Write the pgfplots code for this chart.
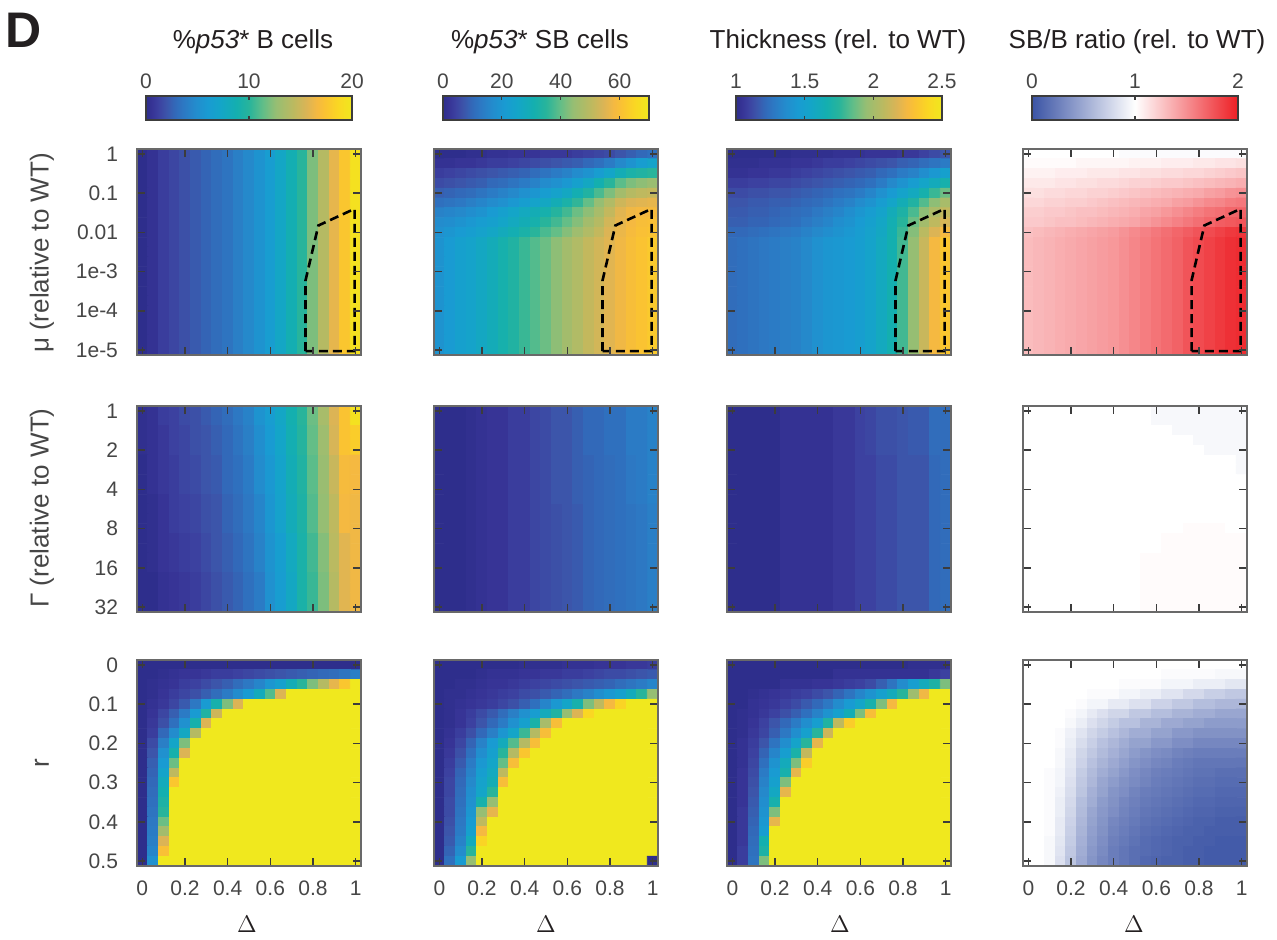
\documentclass[border=0pt]{standalone}
\usepackage{fontspec}
\setmainfont{Liberation Sans}
\usepackage{pgfplots}
\pgfplotsset{compat=1.18}

\definecolor{axgray}{RGB}{105,105,105}
\definecolor{tkgray}{RGB}{60,60,60}
\definecolor{lbgray}{RGB}{70,70,70}
\definecolor{ttl}{RGB}{35,31,32}

\pgfplotsset{
  colormap={refpar}{rgb255(0cm)=(46,46,140); rgb255(3cm)=(55,52,150); rgb255(6cm)=(60,65,160);
    rgb255(10cm)=(60,85,170); rgb255(14cm)=(50,105,185); rgb255(18cm)=(45,120,195);
    rgb255(24cm)=(35,140,205); rgb255(30cm)=(25,155,210); rgb255(36cm)=(20,165,200);
    rgb255(44cm)=(20,175,175); rgb255(50cm)=(40,180,155); rgb255(57cm)=(100,190,135);
    rgb255(63cm)=(150,190,115); rgb255(72cm)=(190,185,95); rgb255(78cm)=(220,180,85);
    rgb255(83cm)=(245,185,65); rgb255(87cm)=(250,195,50); rgb255(93cm)=(250,215,35);
    rgb255(100cm)=(240,232,30)},
  colormap={bwr}{rgb255(0cm)=(59,84,165); rgb255(50cm)=(255,255,255); rgb255(100cm)=(237,30,36)},
}

\pgfplotsset{
  hm/.style={
    scale only axis, width=112pt, height=103pt,
    anchor=north west,
    xmin=-0.5, xmax=20.5, ymin=-0.5, ymax=20.5, y dir=reverse,
    axis on top,
    xtick={0,4,8,12,16,20}, ytick={0,4,8,12,16,20},
    xticklabels={}, yticklabels={},
    tick align=inside, major tick length=4pt,
    axis line style={draw=axgray, line width=0.7pt},
    every tick/.style={draw=tkgray, line width=0.8pt},
    tick label style={font=\fontsize{10.5}{12}\selectfont, text=lbgray},
    yticklabel style={xshift=-6pt},
    xticklabel style={yshift=-4pt},
    point meta min=0, point meta max=100,
    colormap name=refpar,
  },
  cb/.style={
    colorbar horizontal,
    colorbar style={
      at={(parent axis.north)}, anchor=south, yshift=23pt,
      scale only axis, width=103pt, height=12pt,
      xticklabel pos=upper, tick align=inside, major tick length=2pt,
      axis line style={draw=tkgray, line width=0.7pt},
      every tick/.style={draw=tkgray, line width=0.6pt},
      tick label style={font=\fontsize{10.5}{12}\selectfont, text=lbgray},
      #1,
    },
  },
  dashbox/.style={black, line width=1.3pt, dash pattern=on 4.5pt off 2.5pt},
}

% grid builder: rows listed top to bottom, 21 values each
\newcommand\mkgrid[2]{%
  \gdef#1{}%
  \foreach \rw [count=\ri from 0] in {#2} {%
    \edef\rowlist{\rw}%
    \foreach \v [count=\ci from 0] in \rowlist {%
      \xdef#1{#1 (\ci,\ri) [\v]}%
    }%
  }%
}
\newcommand\heat[1]{\edef\hmtmp{\noexpand\addplot[matrix plot*,mesh/cols=21,point meta=explicit,forget plot] coordinates {#1};}\hmtmp}

\def\hA{100,100,100,100,100}
\def\hC{\hA,\hA,\hA}
\def\wA{50,50,50,50,50}

% row 1: mu
\def\rAA{0,2,5,7,9,11,13,15,17,20,23,27,31,37,43,50,60,70,80,88,97}
\mkgrid\gAA{%
{\rAA},{\rAA},{\rAA},{\rAA},{\rAA},{\rAA},{\rAA},%
{\rAA},{\rAA},{\rAA},{\rAA},{\rAA},{\rAA},{\rAA},%
{\rAA},{\rAA},{\rAA},{\rAA},{\rAA},{\rAA},{\rAA}}

\def\bAB{27,30,33,35,38,41,45,48,52,55,58,62,66,69,73,76,79,82,85,87,89}
\mkgrid\gAB{%
{0,0,0,1,1,2,2,3,3,3,4,4,4,5,6,7,8,10,12,14,16},%
{2,2,3,3,4,5,5,6,7,8,9,10,11,12,14,16,19,23,27,31,35},%
{5,6,7,8,9,10,11,12,13,15,17,19,21,24,27,31,36,42,46,48,50},%
{8,9,10,11,12,14,15,17,19,21,24,26,29,33,38,44,50,56,60,62,64},%
{12,13,14,15,17,19,21,23,26,28,31,34,38,43,48,54,60,66,70,72,73},%
{16,17,18,20,22,24,26,29,32,35,38,42,46,51,57,63,69,75,78,79,80},%
{21,22,23,25,27,30,33,36,39,42,45,49,53,58,62,67,73,79,82,83,84},%
{24,25,27,29,31,33,36,39,42,45,50,53,57,61,66,70,76,80,83,85,86},%
{26,28,30,32,34,37,40,43,46,50,54,57,61,65,69,73,78,81,84,86,87},%
{\bAB},{\bAB},{\bAB},{\bAB},{\bAB},{\bAB},%
{\bAB},{\bAB},{\bAB},{\bAB},{\bAB},{\bAB}}

\def\bAC{15,16,17,18,19,20,21,23,26,28,29,30,32,35,39,44,53,63,74,83,88}
\mkgrid\gAC{%
{0,0,0,0,0,0,1,1,1,1,2,2,2,3,3,3,4,4,6,8,10},%
{1,1,1,2,2,2,3,3,4,5,5,6,7,8,9,10,12,13,15,17,19},%
{2,2,3,3,4,4,5,6,7,8,9,10,11,12,14,16,19,21,25,29,33},%
{5,5,6,6,7,7,8,9,10,11,12,13,14,16,19,23,27,31,36,40,45},%
{8,8,9,9,10,10,11,12,13,14,16,17,19,22,26,30,35,39,45,52,58},%
{10,10,11,11,12,12,13,14,15,17,19,21,24,27,31,36,42,48,55,62,67},%
{11,11,12,12,13,14,15,16,18,20,22,25,28,31,35,41,47,54,62,68,73},%
{12,12,13,13,14,15,16,18,20,22,25,27,30,33,37,43,50,58,66,72,77},%
{14,14,15,16,17,18,19,21,23,25,27,29,31,34,38,44,52,61,71,78,83},%
{\bAC},{\bAC},{\bAC},{\bAC},{\bAC},{\bAC},%
{\bAC},{\bAC},{\bAC},{\bAC},{\bAC},{\bAC}}

\def\bAD{65,66,67,68,69,70,71,72,73,75,77,79,81,83,85,88,90,92,94,96,97}
\mkgrid\gAD{%
{\wA,50,50,50,50,49,49,49,49,49,49,49,49,49,49,49,49},%
{51,51,51,51,51,52,52,52,52,52,53,53,53,54,54,54,55,55,56,56,57},%
{53,53,53,54,54,54,55,55,55,56,56,57,57,58,58,59,59,60,61,62,63},%
{55,55,55,56,56,57,57,58,58,59,60,60,61,62,62,63,64,65,66,67,68},%
{57,57,58,58,59,59,60,60,61,62,63,64,65,66,67,68,69,71,72,74,75},%
{59,59,60,60,61,61,62,63,64,65,66,67,68,69,71,72,74,76,77,79,80},%
{61,61,62,62,63,64,64,65,66,67,68,70,71,73,75,77,79,81,82,84,85},%
{62,62,63,64,64,65,66,67,68,69,70,72,74,76,78,80,82,84,86,87,88},%
{64,65,66,67,68,69,70,71,72,74,76,78,80,82,84,86,88,90,92,94,95},%
{\bAD},{\bAD},{\bAD},{\bAD},{\bAD},{\bAD},%
{\bAD},{\bAD},{\bAD},{\bAD},{\bAD},{\bAD}}

% row 2: Gamma
\def\pA{1,2,5,6,8,9,11,13,15,18,21,27,31,37,44,50,58,67,78,87,97}
\def\pB{1,2,4,6,7,9,10,12,14,17,20,25,30,36,43,49,57,65,77,87,90}
\def\pC{0,2,4,5,7,8,10,11,14,16,19,24,29,35,42,48,56,64,74,84,83}
\def\pD{0,1,3,5,6,7,9,10,13,15,18,22,28,34,41,47,55,63,72,83,82}
\def\pE{0,1,3,4,5,6,8,10,12,14,17,21,27,32,39,46,53,61,71,79,82}
\def\pF{0,0,2,3,4,5,7,9,11,13,16,19,26,31,38,46,52,60,70,79,82}
\mkgrid\gBA{%
{\pA},{\pA},{\pB},{\pB},{\pB},{\pC},{\pC},{\pC},{\pC},%
{\pD},{\pD},{\pD},{\pD},{\pE},{\pE},{\pE},{\pE},{\pF},{\pF},{\pF},{\pF}}

\def\qA{0,0,0,1,2,3,3,5,5,7,8,10,10,12,14,14,16,16,19,19,21}
\def\qB{0,0,0,1,2,3,3,5,5,7,8,10,10,12,13,14,15,16,18,19,21}
\def\qC{0,0,0,1,2,3,3,5,5,7,8,9,10,11,13,14,15,16,17,18,20}
\mkgrid\gBB{%
{\qA},{\qA},{\qA},{\qA},{\qA},{\qB},{\qB},{\qB},{\qB},{\qB},%
{\qC},{\qC},{\qC},{\qC},{\qC},{\qC},{\qC},{\qC},{\qC},{\qC},{\qC}}

\def\sA{0,0,0,0,0,2,2,2,2,2,4,4,6,7,9,9,10,11,11,15,15}
\def\sB{0,0,0,0,0,2,2,2,2,2,4,4,6,6,8,8,10,10,10,14,15}
\mkgrid\gBC{%
{\sA},{\sA},{\sA},{\sA},{\sA},{\sB},{\sB},{\sB},{\sB},{\sB},{\sB},%
{\sB},{\sB},{\sB},{\sB},{\sB},{\sB},{\sB},{\sB},{\sB},{\sB}}

\def\tA{\wA,\wA,50,50,48,48,48,48,48,48,48,48,48}
\def\tB{\wA,\wA,50,50,50,50,48,48,48,48,48,48,48}
\def\tC{\wA,\wA,\wA,50,48,48,48,48,48}
\def\tD{\wA,\wA,\wA,50,50,48,48,48,48}
\def\tE{\wA,\wA,\wA,\wA,48}
\def\tF{\wA,\wA,\wA,\wA,50}
\def\tG{\wA,\wA,\wA,51,51,51,51,50,50}
\def\tH{\wA,\wA,50,50,50,51,51,51,51,51,51,51,51}
\def\tI{\wA,\wA,50,51,51,51,51,51,51,51,51,51,51}
\mkgrid\gBD{%
{\tA},{\tA},{\tB},{\tC},{\tD},{\tE},{\tE},{\tF},{\tF},{\tF},{\tF},{\tF},%
{\tG},{\tH},{\tH},{\tI},{\tI},{\tI},{\tI},{\tI},{\tI}}

% row 3: r
\mkgrid\gCA{%
{0,0,0,0,0,0,0,0,0,0,0,0,0,0,0,0,0,0,0,0,0},%
{0,0,1,2,3,3,4,5,5,6,7,8,9,10,11,12,13,14,15,17,20},%
{0,1,2,3,5,6,8,10,12,15,18,22,28,33,42,50,60,70,80,88,100},%
{0,1,3,5,7,9,12,15,19,24,30,40,55,78,100,\hA,100},%
{0,2,4,7,11,18,30,45,60,78,\hA,\hA,100},%
{0,3,7,12,19,30,48,75,\hA,\hA,100,100,100},%
{0,4,9,16,26,45,78,\hA,\hA,100,100,100,100},%
{0,5,14,24,38,70,\hC},%
{0,8,20,36,60,\hC,100},%
{0,10,26,45,78,\hC,100},%
{0,12,30,58,\hC,100,100},%
{0,13,35,72,\hC,100,100},%
{0,14,40,88,\hC,100,100},%
{0,15,44,\hC,100,100,100},%
{0,16,47,\hC,100,100,100},%
{0,17,50,\hC,100,100,100},%
{0,18,58,\hC,100,100,100},%
{0,19,66,\hC,100,100,100},%
{0,20,78,\hC,100,100,100},%
{0,22,86,\hC,100,100,100},%
{0,26,\hC,100,100,100,100}}

\mkgrid\gCB{%
{0,0,0,0,0,0,0,0,1,1,1,1,2,2,2,3,3,3,4,4,5},%
{0,0,0,0,1,2,2,2,3,3,4,4,5,5,6,7,8,8,9,10,11},%
{0,0,1,1,2,3,3,4,5,6,7,8,9,10,11,12,13,15,17,19,22},%
{0,1,1,2,3,4,5,6,8,9,11,13,15,18,21,25,29,33,40,50,63},%
{0,1,2,3,4,5,7,9,12,16,22,29,36,45,60,72,83,92,100,100,100},%
{0,1,3,5,8,11,15,20,26,31,40,48,63,78,93,\hA,100},%
{0,1,3,6,10,14,19,26,33,46,67,85,\hA,100,100,100,100},%
{0,2,5,9,14,20,28,36,52,70,85,\hA,\hA},%
{0,3,7,13,21,30,40,55,70,85,\hA,\hA,100},%
{0,4,9,16,25,33,50,70,88,\hA,\hA,100,100},%
{0,5,11,19,29,36,57,85,\hA,\hA,100,100,100},%
{0,6,13,21,32,39,72,\hA,\hA,100,100,100,100},%
{0,7,14,23,34,42,85,\hA,\hA,100,100,100,100},%
{0,7,15,25,36,50,\hC},%
{0,8,16,26,45,63,\hC},%
{0,8,17,28,63,80,\hC},%
{0,9,18,30,72,\hC,100},%
{0,10,19,33,83,\hC,100},%
{0,11,21,40,92,\hC,100},%
{0,13,24,50,\hC,100,100},%
{0,16,30,63,\hC,100,0}}

\mkgrid\gCC{%
{0,0,0,0,0,0,0,0,0,0,0,0,0,0,0,0,0,1,1,1,1},%
{0,0,0,0,0,0,0,0,0,0,2,2,2,2,2,2,2,2,2,4,6},%
{0,0,0,0,0,2,2,2,3,3,4,5,6,8,12,17,24,32,40,47,60},%
{0,0,1,2,3,4,5,6,8,10,13,17,22,27,33,40,50,65,82,100,100},%
{0,0,2,3,4,6,8,11,14,18,24,30,36,45,60,83,\hA},%
{0,1,2,4,6,9,12,16,21,27,33,42,60,85,\hA,100,100},%
{0,1,3,6,10,14,19,25,32,48,72,90,\hA,100,100,100,100},%
{0,1,4,7,12,18,25,33,50,75,\hA,\hA,100},%
{0,2,5,10,17,25,35,50,80,\hA,\hA,100,100},%
{0,2,6,13,22,32,46,73,\hA,\hA,100,100,100},%
{0,2,7,16,27,40,60,90,\hA,\hA,100,100,100},%
{0,3,8,19,30,45,80,\hA,\hA,100,100,100,100},%
{0,3,9,21,33,60,\hC},%
{0,3,10,23,38,80,\hC},%
{0,3,11,25,45,\hC,100},%
{0,4,12,27,60,\hC,100},%
{0,4,13,29,80,\hC,100},%
{0,4,14,31,\hC,100,100},%
{0,4,15,44,\hC,100,100},%
{0,5,16,47,\hC,100,100},%
{0,5,17,60,\hC,100,100}}

\mkgrid\gCD{%
{\wA,\wA,\wA,\wA,50},%
{\wA,\wA,50,50,50,49,49,49,49,49,48,48,48},%
{\wA,50,50,50,50,49,49,49,49,47,47,47,45,45,45,43,43},%
{\wA,50,49,49,49,47,47,45,45,42,42,39,39,36,36,34,34},%
{\wA,49,47,47,44,44,41,41,37,37,34,34,31,31,29,29,29},%
{50,50,50,50,49,47,44,41,38,38,34,34,31,31,28,28,26,26,24,24,24},%
{50,50,50,50,48,45,41,38,35,32,32,28,28,25,25,23,23,21,21,21,21},%
{50,50,50,49,46,42,38,35,32,29,26,26,23,23,20,20,18,18,18,18,18},%
{50,50,50,49,45,40,36,32,29,26,23,23,20,20,17,17,15,15,15,15,15},%
{50,50,50,48,44,38,34,30,27,24,21,19,17,16,14,13,12,12,12,12,12},%
{50,50,50,48,43,37,32,28,25,22,19,17,15,14,12,11,10,10,10,10,10},%
{50,50,49,47,42,35,30,26,23,20,17,15,13,12,11,10,9,9,8,8,8},%
{50,50,49,47,41,34,29,24,21,18,16,14,12,11,10,9,8,8,7,7,7},%
{50,50,49,46,40,33,27,23,19,17,14,12,11,10,9,8,7,7,6,6,6},%
{50,50,49,45,39,31,26,21,18,15,13,11,10,9,8,7,6,6,5,5,5},%
{50,50,49,45,38,30,24,20,17,14,12,10,9,8,7,6,5,5,4,4,4},%
{50,50,49,44,37,29,23,19,15,13,11,9,8,7,6,5,4,4,3,3,3},%
{50,50,49,44,36,28,22,18,14,12,10,8,7,6,5,4,4,3,3,3,3},%
{50,50,48,43,35,27,21,17,13,11,9,7,6,5,4,4,3,3,2,2,2},%
{50,50,48,42,34,26,20,16,12,10,8,7,6,5,4,3,3,2,2,2,2},%
{50,50,48,41,33,25,19,15,12,10,8,6,5,4,4,3,3,2,2,2,2}}

\newcommand\dashpoly{\addplot[dashbox] coordinates {(15.3,20.1) (15.3,12.9) (16.5,7.3) (19.9,5.6) (19.9,20.1) (15.3,20.1)};}

\begin{document}
\begin{tikzpicture}
\useasboundingbox (0,0) rectangle (638.5pt,-470pt);

% ---- row 1 ----
\begin{axis}[hm, at={(68.5pt,-74.5pt)}, yticklabels={1,0.1,0.01,1e-3,1e-4,1e-5},
  cb={xtick={0,50,100}, xticklabels={0,10,20}}]
\heat{\gAA}
\dashpoly
\end{axis}
\begin{axis}[hm, at={(217pt,-74.5pt)},
  cb={xtick={0,28.571,57.143,85.714}, xticklabels={0,20,40,60}}]
\heat{\gAB}
\dashpoly
\end{axis}
\begin{axis}[hm, at={(363.5pt,-74.5pt)},
  cb={xtick={0,33.333,66.667,100}, xticklabels={1,1.5,2,2.5}}]
\heat{\gAC}
\dashpoly
\end{axis}
\begin{axis}[hm, at={(511.5pt,-74.5pt)}, colormap name=bwr,
  cb={xtick={0,50,100}, xticklabels={0,1,2}}]
\heat{\gAD}
\dashpoly
\end{axis}

% ---- row 2 ----
\begin{axis}[hm, at={(68.5pt,-203pt)}, yticklabels={1,2,4,8,16,32}]
\heat{\gBA}
\end{axis}
\begin{axis}[hm, at={(217pt,-203pt)}]
\heat{\gBB}
\end{axis}
\begin{axis}[hm, at={(363.5pt,-203pt)}]
\heat{\gBC}
\end{axis}
\begin{axis}[hm, at={(511.5pt,-203pt)}, colormap name=bwr]
\heat{\gBD}
\end{axis}

% ---- row 3 ----
\begin{axis}[hm, at={(68.5pt,-330pt)}, yticklabels={0,0.1,0.2,0.3,0.4,0.5},
  xticklabels={0,0.2,0.4,0.6,0.8,1}]
\heat{\gCA}
\end{axis}
\begin{axis}[hm, at={(217pt,-330pt)}, xticklabels={0,0.2,0.4,0.6,0.8,1}]
\heat{\gCB}
\end{axis}
\begin{axis}[hm, at={(363.5pt,-330pt)}, xticklabels={0,0.2,0.4,0.6,0.8,1}]
\heat{\gCC}
\end{axis}
\begin{axis}[hm, at={(511.5pt,-330pt)}, colormap name=bwr, xticklabels={0,0.2,0.4,0.6,0.8,1}]
\heat{\gCD}
\end{axis}

% ---- texts ----
\node[font=\bfseries\fontsize{25}{28}\selectfont, text=ttl] at (12pt,-15pt) {D};
\begin{scope}[every node/.style={font=\fontsize{13}{15}\selectfont, text=ttl}]
\node at (126.5pt,-21pt) {\%\textit{p53}* B cells};
\node at (270pt,-21pt) {\%\textit{p53}* SB cells};
\node at (419pt,-21pt) {Thickness (rel. to WT)};
\node at (568.5pt,-21pt) {SB/B ratio (rel. to WT)};
\end{scope}
\begin{scope}[every node/.style={font=\fontsize{13}{15}\selectfont, text=lbgray}]
\node[rotate=90] at (21pt,-126.5pt) {μ (relative to WT)};
\node[rotate=90] at (21pt,-254pt) {Γ (relative to WT)};
\node[rotate=90] at (21pt,-381.5pt) {r};
\end{scope}
\begin{scope}[every node/.style={font=\fontsize{13}{15}\selectfont, text=ttl}]
\node at (123.5pt,-462pt) {$\Delta$};
\node at (273pt,-462pt) {$\Delta$};
\node at (420pt,-462pt) {$\Delta$};
\node at (567pt,-462pt) {$\Delta$};
\end{scope}
\end{tikzpicture}
\end{document}
